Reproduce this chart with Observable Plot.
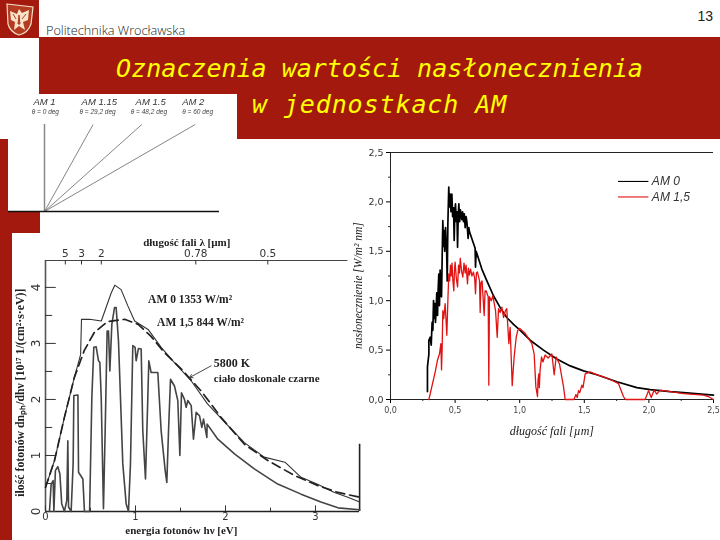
<!DOCTYPE html>
<html><head><meta charset="utf-8">
<script src="https://cdn.jsdelivr.net/npm/d3@7"></script>
<script src="https://cdn.jsdelivr.net/npm/@observablehq/plot@0.6"></script>
<style>
html,body{margin:0;padding:0;background:#fff}
#slide{position:relative;width:720px;height:540px;overflow:hidden;background:#fff}
.red{position:absolute;background:#a3190e}
.chart{position:absolute}
.chart svg{background:transparent;display:block;overflow:visible}
.soft{filter:blur(.45px)}
#title{position:absolute;left:39px;width:681px;top:51px;text-align:center;color:#ffff00;font:oblique 25px/36px "DejaVu Sans Mono",monospace;margin:0}
#title span{letter-spacing:.9px}
#page{position:absolute;right:7px;top:8px;font:14px "Liberation Sans",sans-serif;color:#222}
#org{position:absolute;left:46px;top:21px;font:300 12.7px "Open Sans",sans-serif;color:#222;white-space:nowrap}
</style></head><body>
<div id="slide">
  <div class="red" style="left:39px;top:37px;width:681px;height:57px"></div>
  <div class="red" style="left:237px;top:94px;width:483px;height:45px"></div>
  <div class="red" style="left:0;top:139px;width:8px;height:93px"></div>
  <div class="red" style="left:0;top:211px;width:40px;height:22px"></div>
  <div class="red" style="left:0;top:232px;width:12px;height:308px"></div>
  <svg style="position:absolute;left:0;top:0" width="39" height="38" viewBox="0 0 39 38">
    <rect width="39" height="38" fill="#a3190e"/>
    <path d="M7 4 L33 7 L31 24 Q28 33 19 35 Q10 32 8 24 Z" fill="#b53a22" stroke="#f4dcc6" stroke-width="1.2"/>
    <path d="M19 9 L22 13 L29 10 L28 20 L23 22 L25 30 L19 26 L14 30 L15 22 L11 20 L10 11 L17 14 Z" fill="#f6e3c8"/>
    <path d="M19 15 L20 24 L18 24 Z M13 14 L16 19 M26 14 L22 19" stroke="#b53a22" fill="#b53a22"/>
  </svg>
  <div id="org">Politechnika Wrocławska</div>
  <div id="page">13</div>
  <h1 id="title" style="font-weight:normal">Oznaczenia wartości nasłonecznienia<br><span>w jednostkach AM</span></h1>
  <div id="am" class="chart soft" style="left:0;top:94px"></div>
  <div id="left" class="chart soft" style="left:12px;top:232px"></div>
  <div id="right" class="chart soft" style="left:350px;top:140px"></div>
</div>
<script>
// ---- Air-mass geometry ----
const amNames = ["AM 1", "AM 1.15", "AM 1.5", "AM 2"];
const amAngles = [0, 29.2, 48.2, 60];
const amAngleText = ["θ = 0 deg", "θ = 29,2 deg", "θ = 48,2 deg", "θ = 60 deg"];
const amNameX = [0, 0.63, 1.22, 1.71];
const amAngleX = [0.01, 0.61, 1.2, 1.76];

// ---- Right chart: irradiance against wavelength, [um, W/m2/nm] pairs ----
const am0 = [[.286,.08],[.286,.33],[.297,.46],[.297,.60],[.307,.63],[.315,.55],[.322,.78],[.328,.70],[.333,1.0],[.338,.82],[.343,.97],[.348,.78],[.353,.90],[.358,1.08],[.364,.85],[.369,1.12],[.374,1.27],[.379,.95],[.384,1.31],[.39,1.05],[.395,1.04],[.400,1.44],[.405,1.81],[.41,1.55],[.415,1.71],[.42,1.5],[.426,1.74],[.43,1.6],[.433,1.61],[.439,1.20],[.444,1.78],[.451,2.15],[.456,1.95],[.462,2.08],[.468,1.9],[.475,2.08],[.481,1.85],[.488,1.94],[.493,1.61],[.498,1.9],[.503,1.98],[.509,1.8],[.514,1.9],[.519,1.54],[.524,1.85],[.529,1.98],[.535,1.8],[.541,1.92],[.552,1.82],[.558,1.9],[.565,1.8],[.571,1.88],[.578,1.74],[.585,1.85],[.591,1.8],[.601,1.63],[.606,1.74],[.611,1.7],[.637,1.6],[.655,1.53],[.658,1.34],[.663,1.5],[.707,1.32],[.746,1.2],[.797,1.05],[.849,.93],[.900,.83],[.952,.76],[1.004,.7],[1.081,.6],[1.184,.5],[1.287,.41],[1.391,.34],[1.494,.29],[1.597,.25],[1.752,.18],[1.907,.12],[2.01,.10],[2.165,.08],[2.268,.07],[2.5,.045]];
const am15 = [[.297,0],[.32,.13],[.346,.28],[.364,.40],[.379,.46],[.39,.565],[.395,.30],[.40,.53],[.405,.90],[.412,.82],[.423,.97],[.43,.8],[.436,.65],[.444,1.0],[.451,1.27],[.458,1.2],[.464,1.36],[.47,1.25],[.476,1.38],[.483,1.2],[.49,1.10],[.495,1.3],[.50,1.39],[.51,1.22],[.519,1.14],[.527,1.36],[.534,1.28],[.54,1.43],[.55,1.3],[.56,1.24],[.569,1.38],[.578,1.28],[.585,1.36],[.596,1.17],[.603,1.33],[.611,1.26],[.62,1.32],[.63,1.25],[.642,1.29],[.652,1.22],[.658,1.07],[.665,1.28],[.673,1.29],[.689,1.20],[.694,.88],[.70,1.18],[.709,1.20],[.725,.85],[.732,1.1],[.74,1.10],[.756,1.04],[.761,.145],[.766,1.04],[.78,1.0],[.792,1.05],[.813,.90],[.826,.63],[.836,.92],[.848,.88],[.862,.935],[.875,.83],[.89,.9],[.90,.92],[.916,.565],[.926,.73],[.935,.4],[.942,.14],[.95,.3],[.957,.43],[.973,.63],[.985,.7],[.998,.72],[1.042,.67],[1.094,.565],[1.112,.46],[1.125,.13],[1.138,.03],[1.142,.2],[1.148,.26],[1.152,.12],[1.158,.30],[1.169,.43],[1.18,.38],[1.197,.45],[1.22,.42],[1.249,.46],[1.267,.25],[1.282,.43],[1.308,.36],[1.339,.13],[1.352,0],[1.42,0],[1.435,.05],[1.445,.02],[1.455,.09],[1.465,.07],[1.481,.145],[1.49,.12],[1.507,.26],[1.545,.28],[1.6,.25],[1.649,.23],[1.713,.195],[1.765,.16],[1.803,.03],[1.819,0],[1.971,0],[1.997,.09],[2.018,.02],[2.041,.095],[2.061,.055],[2.087,.095],[2.268,.06],[2.423,.045],[2.46,.03],[2.5,0]];
const rightTicks = [0, .5, 1, 1.5, 2, 2.5];
const rightMinor = [.25, .75, 1.25, 1.75, 2.25];

// ---- Left chart: photon flux against photon energy ----
const solidE = [0,.1,.21,.32,.39,.40,.49,.62,.73,.77,.84,.915,.99,1.14,1.285,1.43,1.62,1.80,2.03,2.21,2.43,2.66,2.84,3.03,3.21,3.36,3.49];
const solidF = [.43,.91,1.68,2.39,2.8,3.43,3.43,3.40,3.9,4.04,3.96,3.67,3.40,3.25,2.93,2.66,2.33,1.92,1.53,1.23,.97,.88,.61,.48,.34,.255,.17];
const bodyE = [0,.1,.21,.32,.43,.54,.69,.88,1.03,1.17,1.32,1.51,1.73,1.95,2.21,2.47,2.77,3.03,3.25,3.49];
const bodyF = [.43,.91,1.68,2.39,2.87,3.19,3.39,3.43,3.34,3.13,2.84,2.54,2.15,1.68,1.20,.91,.64,.46,.34,.255];
const am15E = [.044,.063,.085,.093,.11,.137,.16,.18,.21,.237,.248,.256,.285,.307,.315,.36,.367,.415,.433,.49,.515,.537,.563,.589,.604,.619,.644,.663,.685,.70,.715,.737,.767,.785,.811,.859,.896,.922,.944,.97,.996,1.007,1.033,1.063,1.081,1.111,1.137,1.148,1.174,1.248,1.285,1.33,1.348,1.367,1.389,1.433,1.47,1.493,1.511,1.544,1.563,1.581,1.619,1.644,1.674,1.711,1.737,1.756,1.793,1.796,1.915,2.1,2.32,2.58,2.84,3.06,3.25,3.49];
const am15F = [0,.49,.55,0,.73,.80,.67,.14,0,.20,1.26,.08,0,.85,2.07,2.08,.70,.58,0,0,2.04,2.93,2.94,2.69,2.66,2.04,.05,1.44,3.22,3.22,2.51,3.34,3.64,3.64,3.04,.85,.14,0,.85,2.96,2.93,2.69,2.91,2.90,1.44,.58,2.04,2.69,2.48,2.48,1.44,.73,.52,1.44,2.36,2.24,1.98,1.0,2.12,2.0,1.86,1.98,1.89,1.29,1.77,1.71,1.5,1.65,1.32,1.56,1.29,1.03,.76,.49,.31,.17,.065,.03];
const lambdaLabels = ["5", "3", "2", "0.78", "0.5"];
const lambdaEnergy = [.22, .40, .62, 1.67, 2.47];
const fluxTicks = [0, 1, 2, 3, 4];
const fluxMinor = [.5, 1.5, 2.5, 3.5];
const energyTicks = [0, 1, 2, 3];
const energyMinor = [.5, 1.5, 2.5];
const notes = [
  {x: 1.14, y: 3.79, t: "AM 0 1353 W/m²", s: 11.5},
  {x: 1.24, y: 3.38, t: "AM 1,5 844 W/m²", s: 11.5},
  {x: 1.87, y: 2.65, t: "5800 K", s: 12},
  {x: 1.87, y: 2.37, t: "ciało doskonale czarne", s: 11}
];

const zip = (xs, ys) => xs.map((x, i) => ({x, y: ys[i]}));
const SERIF = '"Liberation Serif",serif';
const SANS = '"Liberation Sans",sans-serif';
const DEJA = '"DejaVu Sans",sans-serif';

// Air-mass diagram: unit height equals the vertical ray
const amRays = amAngles.map(a => ({x1: 0, y1: 0, x2: Math.tan(a * Math.PI / 180), y2: 1}));
document.getElementById("am").append(Plot.plot({
  width: 230, height: 126, margin: 0, axis: null,
  style: {background: "transparent"},
  x: {domain: [-44 / 87, (230 - 44) / 87], range: [0, 230]},
  y: {domain: [0, 1], range: [117, 30]},
  marks: [
    Plot.link(amRays.slice(1), {x1: "x1", y1: "y1", x2: "x2", y2: "y2", stroke: "#666", strokeWidth: .8}),
    Plot.ruleX([0], {y1: 0, y2: 1, stroke: "#888", strokeWidth: 1.5}),
    Plot.ruleY([0], {x1: -36 / 87, x2: 175 / 87, stroke: "#111", strokeWidth: 1.5}),
    Plot.text(amNames, {x: (d, i) => amNameX[i], y: () => 1.264, text: d => d, fontSize: 9.5, fontStyle: "italic", fontFamily: SANS, fill: "#333"}),
    Plot.text(amAngleText, {x: (d, i) => amAngleX[i], y: () => 1.14, text: d => d, fontSize: 6.5, fontStyle: "italic", fontFamily: SANS, fill: "#444"})
  ]
}));

// Left chart
document.getElementById("left").append(Plot.plot({
  width: 358, height: 308,
  marginLeft: 33, marginRight: 10, marginTop: 28, marginBottom: 29,
  style: {background: "transparent"},
  x: {domain: [0, 3.5], label: null},
  y: {domain: [0, 4.48], label: null},
  marks: [
    Plot.ruleX([0], {y1: 0, y2: 4.48, stroke: "#555", strokeWidth: 1.6}),
    Plot.ruleY([4.48], {x1: 0, x2: 3.36, stroke: "#444", strokeWidth: 1}),
    Plot.ruleY([0], {x1: 0, x2: 3.49, stroke: "#222", strokeWidth: 1.3}),
    Plot.ruleX([3.49], {y1: 0, y2: 1.2, stroke: "#222", strokeWidth: 1.6}),
    Plot.ruleY(fluxTicks, {y: d => d, x1: 0, x2: .12, stroke: "#333"}),
    Plot.ruleY(fluxMinor, {y: d => d, x1: 0, x2: .08, stroke: "#333"}),
    Plot.ruleX(energyTicks, {x: d => d, y1: 0, y2: .1, stroke: "#333"}),
    Plot.ruleX(energyMinor, {x: d => d, y1: 0, y2: .06, stroke: "#333"}),
    Plot.ruleX(lambdaEnergy, {x: d => d, y1: 4.48, y2: 4.4, stroke: "#333"}),
    Plot.axisY({ticks: fluxTicks, tickSize: 0, tickPadding: 6, tickRotate: -90, tickFormat: d => String(d), label: null, fontSize: 12, fontFamily: DEJA, fill: "#333"}),
    Plot.axisX({ticks: energyTicks, tickSize: 0, tickPadding: 1, tickFormat: d => String(d), label: null, fontSize: 10, fontFamily: DEJA, fill: "#333"}),
    Plot.line(zip(am15E, am15F), {x: "x", y: "y", stroke: "#444", strokeWidth: 1.6}),
    Plot.line(zip(solidE, solidF), {x: "x", y: "y", stroke: "#333", strokeWidth: 1.1}),
    Plot.line(zip(bodyE, bodyF), {x: "x", y: "y", stroke: "#222", strokeWidth: 1.7, strokeDasharray: "9 5"}),
    Plot.arrow([{x1: 1.84, y1: 2.60, x2: 1.60, y2: 2.39}], {x1: "x1", y1: "y1", x2: "x2", y2: "y2", stroke: "#333", strokeWidth: .9, headLength: 6}),
    Plot.text(lambdaLabels, {x: (d, i) => lambdaEnergy[i], y: () => 4.61, text: d => d, fontSize: 10.5, fontFamily: DEJA, fill: "#333"}),
    Plot.text(["długość fali λ [µm]"], {x: () => 1.57, y: () => 4.81, text: d => d, fontSize: 11, fontWeight: "bold", fontFamily: SERIF, fill: "#222"}),
    Plot.text(["energia fotonów hν [eV]"], {x: () => 1.51, y: () => -.34, text: d => d, fontSize: 11, fontWeight: "bold", fontFamily: SERIF, fill: "#222"}),
    Plot.text(["ilość fotonów dnₚₕ/dhν [10¹⁷ 1/(cm²·s·eV)]"], {x: () => -.28, y: () => 2.12, rotate: -90, text: d => d, fontSize: 11.8, fontWeight: "bold", fontFamily: SERIF, fill: "#222"}),
    Plot.text(notes, {x: "x", y: "y", text: "t", fontSize: "s", textAnchor: "start", fontWeight: "bold", fontFamily: SERIF, fill: "#222"})
  ]
}));

// Right chart
const comma = d => d.toFixed(1).replace(".", ",");
document.getElementById("right").append(Plot.plot({
  width: 370, height: 300,
  marginLeft: 40, marginRight: 7, marginTop: 12, marginBottom: 41,
  style: {background: "transparent"},
  x: {domain: [0, 2.5], label: null},
  y: {domain: [0, 2.5], label: null},
  marks: [
    Plot.axisX({ticks: rightMinor, tickSize: 2, tickFormat: () => "", label: null, stroke: "#333"}),
    Plot.axisY({ticks: rightMinor, tickSize: 2, tickFormat: () => "", label: null, stroke: "#333"}),
    Plot.axisX({ticks: rightTicks, tickSize: 4, tickPadding: 4, tickFormat: comma, label: null, fontSize: 8, fontFamily: DEJA, fill: "#444"}),
    Plot.axisY({ticks: rightTicks, tickSize: 4, tickPadding: 3, tickFormat: comma, label: null, fontSize: 9.5, fontFamily: DEJA, fill: "#333"}),
    Plot.ruleX([0], {stroke: "#222"}),
    Plot.ruleY([0], {stroke: "#222"}),
    Plot.ruleY([2.5], {stroke: "#222"}),
    Plot.line(am0, {x: d => d[0], y: d => d[1], stroke: "#000", strokeWidth: 1.7}),
    Plot.line(am15, {x: d => d[0], y: d => d[1], stroke: "#e01212", strokeWidth: 1.3}),
    Plot.ruleY([2.207], {x1: 1.765, x2: 2.0, stroke: "#000", strokeWidth: 1.1}),
    Plot.ruleY([2.05], {x1: 1.765, x2: 2.0, stroke: "#e01212", strokeWidth: 1.1}),
    Plot.text(["AM 0", "AM 1,5"], {x: () => 2.023, y: (d, i) => [2.207, 2.05][i], text: d => d, textAnchor: "start", fontSize: 12, fontStyle: "italic", fontFamily: SANS, fill: "#333"}),
    Plot.text(["nasłonecznienie [W/m² nm]"], {x: () => -.25, y: () => 1.153, rotate: -90, text: d => d, fontSize: 11.5, fontStyle: "italic", fontFamily: SERIF, fill: "#222"}),
    Plot.text(["długość fali [µm]"], {x: () => 1.249, y: () => -.32, text: d => d, fontSize: 12, fontStyle: "italic", fontFamily: SERIF, fill: "#222"})
  ]
}));
</script>
</body></html>
